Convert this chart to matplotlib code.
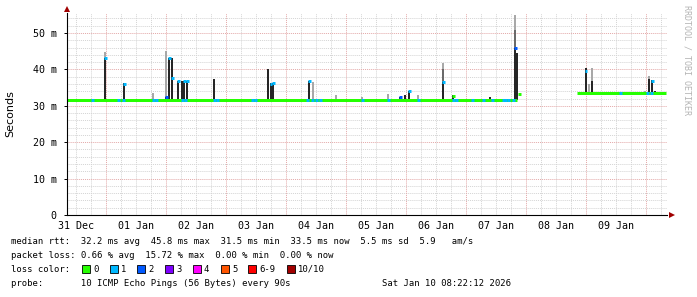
import numpy as np
import matplotlib
matplotlib.use("Agg")
import matplotlib.pyplot as plt
import matplotlib.dates as mdates
from matplotlib.patches import Rectangle
from datetime import datetime, timedelta

# ---------------- data ----------------
start = datetime(2025, 12, 31, 8, 22, 12)
span_days = 10

# median line segments (hours since start, value in ms)
seg_start = [0.0, 180.4, 204.3]
seg_end = [180.0, 181.6, 239.9]
seg_val = [31.7, 33.2, 33.5]

# spikes: hours since start, smoke tops (ms), median at spike and its loss count
spike_h = [15.5, 23.1, 34.7, 39.9, 41.1, 42.3, 44.7, 46.3, 47.1, 48.3, 59.1,
           80.7, 81.7, 82.7, 97.1, 98.7, 107.9, 118.3, 128.7, 133.5, 135.5,
           137.1, 140.7, 150.7, 154.7, 169.5, 179.5, 180.3, 207.8, 208.9,
           210.2, 231.5, 233.1, 234.3, 235.5]
spike_dark = [43.1, 36.3, 31.7, 32.5, 43.1, 43.1, 36.8, 36.8, 36.8, 36.8, 37.4,
              40.0, 36.2, 36.4, 36.8, 31.7, 31.7, 31.7, 31.7, 32.5, 33.0,
              34.0, 31.7, 36.5, 33.0, 32.5, 46.0, 44.5, 40.3, 33.5,
              36.8, 33.5, 37.4, 37.0, 34.2]
spike_mid = [43.1, 36.3, 31.7, 32.5, 43.1, 43.1, 36.8, 36.8, 36.8, 36.8, 37.4,
             40.0, 36.2, 36.4, 36.8, 31.7, 31.7, 31.7, 31.7, 32.5, 33.0,
             34.0, 31.7, 40.0, 33.0, 32.5, 50.8, 44.5, 40.3, 33.5,
             36.8, 33.5, 37.4, 37.0, 34.2]
spike_light = [44.9, 36.3, 33.5, 45.0, 43.1, 43.1, 36.8, 36.8, 36.8, 36.8, 37.4,
               40.0, 36.2, 36.4, 36.8, 36.6, 33.0, 32.4, 33.2, 32.5, 33.0,
               34.0, 33.0, 41.8, 33.0, 32.5, 55.0, 44.5, 40.3, 36.0,
               40.3, 34.2, 38.2, 37.0, 34.2]
spike_med = [43.0, 36.1, np.nan, 32.4, 43.0, 37.6, 36.8, np.nan, 36.8, 36.8, np.nan,
             np.nan, 36.0, 36.4, 36.7, np.nan, np.nan, np.nan, np.nan, 32.4, np.nan,
             34.0, np.nan, 36.5, 32.7, np.nan, 45.8, np.nan, 39.6, np.nan,
             np.nan, np.nan, np.nan, 36.8, np.nan]
spike_loss = [1, 1, 0, 2, 1, 1, 1, 0, 1, 1, 0,
              0, 1, 1, 1, 0, 0, 0, 0, 2, 0,
              1, 0, 1, 0, 0, 2, 0, 1, 0,
              0, 0, 0, 1, 0]

# baseline samples where the median carried 1 lost ping
loss_mark_h = [10.5, 20.7, 22.7, 34.7, 35.9, 46.3, 47.5, 59.1, 60.3, 74.3, 75.5,
               96.3, 98.3, 99.9, 101.5, 118.3, 128.7, 140.7, 154.7, 155.9, 162.3,
               166.7, 170.3, 174.7, 175.5, 176.7, 178.7, 221.5, 232.3, 233.9]

y_ticks = [0, 10, 20, 30, 40, 50]
day_labels = ["31 Dec", "01 Jan", "02 Jan", "03 Jan", "04 Jan",
              "05 Jan", "06 Jan", "07 Jan", "08 Jan", "09 Jan"]

loss_labels = ["0", "1", "2", "3", "4", "5", "6-9", "10/10"]
loss_colors = ["#26ff00", "#00b8ff", "#0059ff", "#7e00ff", "#ff00ff",
               "#ff5500", "#ff0000", "#a10000"]

legend_lines = [
    "median rtt:  32.2 ms avg  45.8 ms max  31.5 ms min  33.5 ms now  5.5 ms sd  5.9   am/s",
    "packet loss: 0.66 % avg  15.72 % max  0.00 % min  0.00 % now",
    "loss color:",
    "probe:       10 ICMP Echo Pings (56 Bytes) every 90s",
]
stamp = "Sat Jan 10 08:22:12 2026"

# ---------------- figure ----------------
W, H = 697, 297
fig = plt.figure(figsize=(W / 100, H / 100), dpi=100)
fig.patch.set_facecolor("white")
ax = fig.add_axes([66.5 / W, 82 / H, 600 / W, 202 / H])
ax.set_facecolor("white")

t0 = mdates.date2num(start)
def hx(h):
    return t0 + np.asarray(h, dtype=float) / 24.0

ymax = 55.5
ax.set_xlim(t0, t0 + span_days)
ax.set_ylim(0, ymax)

mono = "DejaVu Sans Mono"
dot = (0, (1, 1))
# grid
for k in range(0, int(ymax / 2) + 1):
    v = 2 * k
    if v % 10 == 0:
        continue
    ax.axhline(v, color="#d4d4d4", lw=0.7, ls=dot, zorder=0)
for v in y_ticks[1:]:
    ax.axhline(v, color="#e3a8a8", lw=0.7, ls=dot, zorder=0.5)
t = datetime(2025, 12, 31, 12)
while t < start + timedelta(days=span_days):
    c = mdates.date2num(t)
    if t.hour == 0:
        ax.axvline(c, color="#e3a8a8", lw=0.7, ls=dot, zorder=0.5)
    else:
        ax.axvline(c, color="#d4d4d4", lw=0.7, ls=dot, zorder=0)
    t += timedelta(hours=6)

# smoke
sh = np.array(spike_h)
base = np.where(sh < 190, seg_val[0], seg_val[2])
bw = 1.0 / 24 * 0.9
ax.bar(hx(sh), np.array(spike_light) - base, bottom=base, width=bw,
       color="#a8a8a8", lw=0, zorder=2)
ax.bar(hx(sh), np.array(spike_mid) - base, bottom=base, width=bw,
       color="#6a6a6a", lw=0, zorder=2.1)
ax.bar(hx(sh), np.array(spike_dark) - base, bottom=base, width=bw,
       color="#262626", lw=0, zorder=2.2)

# median line
lw3 = 3 * 72 / 100
for s, e, v in zip(seg_start, seg_end, seg_val):
    ax.plot(hx([s, e]), [v, v], color=loss_colors[0], lw=lw3,
            solid_capstyle="butt", zorder=3)

# loss marks on the baseline
for h in loss_mark_h:
    v = seg_val[0] if h < 190 else seg_val[2]
    ax.plot(hx([h - 0.55, h + 0.55]), [v, v], color=loss_colors[1], lw=lw3,
            solid_capstyle="butt", zorder=3.5)

# medians at spikes
for h, m, n in zip(spike_h, spike_med, spike_loss):
    if np.isnan(m):
        continue
    ax.plot(hx([h - 0.5, h + 0.5]), [m, m], color=loss_colors[n], lw=lw3,
            solid_capstyle="butt", zorder=4)

# axes styling
for s in ["top", "right", "left", "bottom"]:
    ax.spines[s].set_visible(False)
axc = "#000000"
ax.plot([0, 0], [0, 1.0], transform=ax.transAxes, color=axc, lw=0.8,
        clip_on=False, zorder=5)
ax.plot([0, 1.0], [0, 0], transform=ax.transAxes, color=axc, lw=0.8,
        clip_on=False, zorder=5)
ax.plot([0], [1.0 + 4 / 202], marker="^", ms=4.2, color="#a00000", mew=0,
        transform=ax.transAxes, clip_on=False, zorder=6)
ax.plot([1.0 + 5 / 600], [0], marker=">", ms=4.2, color="#a00000", mew=0,
        transform=ax.transAxes, clip_on=False, zorder=6)

ax.set_yticks(y_ticks)
ax.set_yticklabels(["0" if v == 0 else f"{v} m" for v in y_ticks],
                   fontfamily=mono, fontsize=7.2)
ax.tick_params(axis="y", length=2, width=0.7, pad=5, color="#000000")
noon = [mdates.date2num(datetime(2025, 12, 31, 12) + timedelta(days=i))
        for i in range(len(day_labels))]
ax.set_xticks(noon)
ax.set_xticklabels(day_labels, fontfamily=mono, fontsize=7.2)
ax.tick_params(axis="x", length=0, pad=4)

fig.text(10 / W, 1 - 113.5 / H, "Seconds", rotation=90, ha="center",
         va="center", fontsize=8, fontfamily="DejaVu Sans", color="#000000")
fig.text(687.5 / W, 1 - 5 / H, "RRDTOOL / TOBI OETIKER", rotation=-90,
         ha="center", va="top", fontsize=6, fontfamily=mono, color="#b4b4b4")

# legend
ys = [241, 255, 269, 283]
for txt, y in zip(legend_lines, ys):
    fig.text(11 / W, 1 - y / H, txt, ha="left", va="center",
             fontsize=6.4, fontfamily=mono, color="#000000")
fig.text(511 / W, 1 - ys[3] / H, stamp, ha="right", va="center",
         fontsize=6.4, fontfamily=mono, color="#000000")
sq_x = [82, 109.5, 137, 165, 193, 221, 248, 287]
for x, lab, col in zip(sq_x, loss_labels, loss_colors):
    fig.add_artist(Rectangle((x / W, (H - 273) / H), 8 / W, 8 / H,
                             transform=fig.transFigure, facecolor=col,
                             edgecolor="#000000", lw=0.6))
    fig.text((x + 11) / W, 1 - ys[2] / H, lab, ha="left", va="center",
             fontsize=6.4, fontfamily=mono, color="#000000")

fig.savefig("out.png", dpi=100, facecolor="white")
